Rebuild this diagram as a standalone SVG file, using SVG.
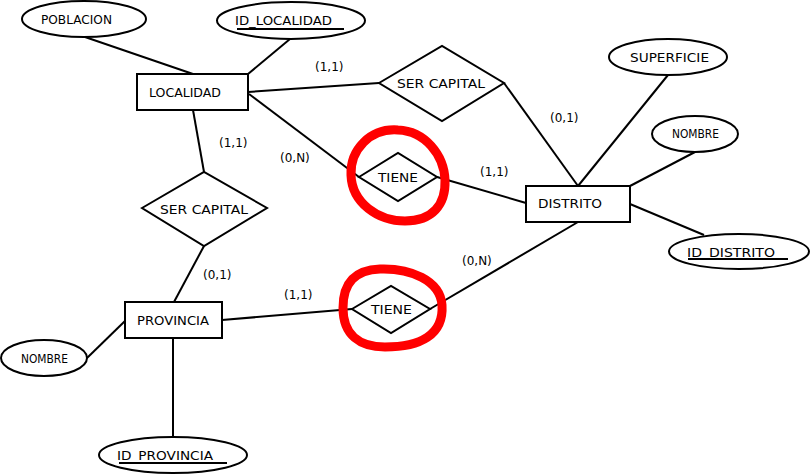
<svg xmlns="http://www.w3.org/2000/svg" width="810" height="474" viewBox="0 0 810 474">
<style>
.s{fill:#fff;stroke:#000;stroke-width:2}
.l{stroke:#000;stroke-width:2;fill:none}
text{font-family:"DejaVu Sans","Liberation Sans",sans-serif;font-size:12px;fill:#000}
.u{stroke:#000;stroke-width:2}
.red{fill:none;stroke:#f00;stroke-width:9;stroke-linejoin:round}
</style>
<rect width="810" height="474" fill="#fff"/>
<g id="connectors">
<line class="l" x1="85" y1="37" x2="193" y2="74"/>
<line class="l" x1="290" y1="39" x2="248" y2="74"/>
<line class="l" x1="248" y1="92" x2="379" y2="83"/>
<line class="l" x1="249" y1="94" x2="359" y2="177"/>
<line class="l" x1="504" y1="83" x2="578" y2="186"/>
<line class="l" x1="668" y1="75" x2="578" y2="186"/>
<line class="l" x1="695" y1="152" x2="630" y2="186"/>
<line class="l" x1="630" y1="204" x2="704" y2="235"/>
<line class="l" x1="437" y1="177" x2="526" y2="203"/>
<line class="l" x1="193" y1="110" x2="204" y2="172"/>
<line class="l" x1="204" y1="246" x2="174" y2="302"/>
<line class="l" x1="87" y1="358" x2="125" y2="321"/>
<line class="l" x1="173" y1="338" x2="173" y2="437"/>
<line class="l" x1="222" y1="320" x2="352" y2="309"/>
<line class="l" x1="430" y1="309" x2="578" y2="222"/>
<text x="315" y="71">(1,1)</text>
<text x="219" y="147">(1,1)</text>
<text x="280" y="162">(0,N)</text>
<text x="480" y="176">(1,1)</text>
<text x="550" y="122">(0,1)</text>
<text x="203" y="279">(0,1)</text>
<text x="284" y="299">(1,1)</text>
<text x="462" y="265">(0,N)</text>
</g>
<g id="poblacion"><ellipse class="s" cx="84" cy="19" rx="62" ry="18"/><text x="41" y="24" textLength="71" lengthAdjust="spacingAndGlyphs">POBLACION</text></g>
<g id="id_localidad"><ellipse class="s" cx="291" cy="20.5" rx="74" ry="18.5"/><text x="235" y="25" textLength="97" lengthAdjust="spacingAndGlyphs">ID_LOCALIDAD</text><line class="u" x1="237" y1="29" x2="344" y2="29"/></g>
<g id="localidad"><rect class="s" x="137" y="74" width="111" height="36"/><text x="149" y="97" textLength="72" lengthAdjust="spacingAndGlyphs">LOCALIDAD</text></g>
<g id="ser_capital_1"><polygon class="s" points="379,83 442,46 504,83 442,121"/><text x="397" y="88" textLength="88" lengthAdjust="spacingAndGlyphs">SER CAPITAL</text></g>
<g id="superficie"><ellipse class="s" cx="668" cy="57" rx="59" ry="18"/><text x="630" y="62" textLength="79" lengthAdjust="spacingAndGlyphs">SUPERFICIE</text></g>
<g id="nombre_distrito"><ellipse class="s" cx="695" cy="134" rx="43" ry="18"/><text x="672" y="138" textLength="47" lengthAdjust="spacingAndGlyphs">NOMBRE</text></g>
<g id="tiene_1"><polygon class="s" points="359,177 398,153 437,177 398,201"/><text x="378" y="182" textLength="40" lengthAdjust="spacingAndGlyphs">TIENE</text></g>
<g id="distrito"><rect class="s" x="526" y="186" width="104" height="36"/><text x="538" y="208" textLength="64" lengthAdjust="spacingAndGlyphs">DISTRITO</text></g>
<g id="id_distrito"><ellipse class="s" cx="739" cy="251.5" rx="70" ry="17.5"/><text x="687" y="257" textLength="88" lengthAdjust="spacingAndGlyphs">ID_DISTRITO</text><line class="u" x1="688" y1="259" x2="788" y2="259"/></g>
<g id="ser_capital_2"><polygon class="s" points="142,208 204,172 267,208 204,246"/><text x="160" y="214" textLength="88" lengthAdjust="spacingAndGlyphs">SER CAPITAL</text></g>
<g id="provincia"><rect class="s" x="125" y="302" width="97" height="36"/><text x="137" y="325" textLength="72" lengthAdjust="spacingAndGlyphs">PROVINCIA</text></g>
<g id="tiene_2"><polygon class="s" points="352,309 391,286 430,309 391,333"/><text x="371" y="314" textLength="41" lengthAdjust="spacingAndGlyphs">TIENE</text></g>
<g id="nombre_provincia"><ellipse class="s" cx="44" cy="358" rx="43" ry="18"/><text x="21" y="363" textLength="47" lengthAdjust="spacingAndGlyphs">NOMBRE</text></g>
<g id="id_provincia"><ellipse class="s" cx="173" cy="455" rx="74" ry="18"/><text x="117" y="460" textLength="96" lengthAdjust="spacingAndGlyphs">ID_PROVINCIA</text><line class="u" x1="119" y1="463" x2="227" y2="463"/></g>
<g id="highlights">
<path class="red" d="M398,130 C370,128 350,150 351,175 C352,203 378,221 405,221 C432,221 446,205 445,180 C444,155 425,131 398,130 Z"/>
<path class="red" d="M380,269 C410,268 440,280 442,305 C444,335 420,347 385,347 C360,347 343,335 343,308 C343,283 355,270 380,269 Z"/>
</g>
</svg>
